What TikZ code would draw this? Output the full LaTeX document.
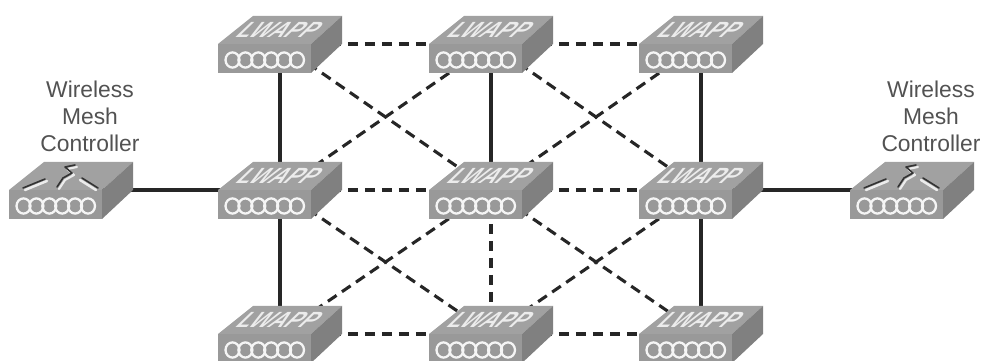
\documentclass[tikz,border=0pt]{standalone}
\usepackage{fontspec}
\setmainfont{Liberation Sans}
\usetikzlibrary{backgrounds}

\definecolor{boxtop}{gray}{0.63}
\definecolor{boxfront}{gray}{0.6}
\definecolor{boxside}{gray}{0.5}
\definecolor{labelgray}{gray}{0.32}

\newcommand{\boxbody}{
    \fill[boxtop] (-62,0) -- (-27,-28) -- (62,-28) -- (31,0) -- cycle;
    \fill[boxside] (31,0) -- (62,-28) -- (62,0) -- (31,29) -- cycle;
    \fill[boxfront] (-62,0) rectangle (31,29);
    \foreach \k in {0,...,5} {
        \draw[white!92!gray, line width=1.3pt] (-47.5+12.9*\k,16) ellipse [x radius=7, y radius=7.6];
    }
}

\tikzset{
    solidlink/.style={draw=black!85, line width=0.062cm},
    dashlink/.style={draw=black!85, line width=0.062cm, dash pattern=on 0.21cm off 0.13cm},
    ctrltext/.style={align=center, text=labelgray, inner sep=0pt, font=\fontsize{13}{15.3}\selectfont},
    lwapptext/.style={text=white!85!gray, inner sep=0pt, xslant=0.85, transform shape, font=\fontsize{12.5}{12.5}\selectfont\bfseries\itshape},
    boltline/.style={line width=0.9pt, line cap=round, line join=round},
    lwapp/.pic={
        \coordinate (-hub) at (0,0);
        \boxbody
        \node[lwapptext] (-tag) at (0,-14) {LWAPP};
    },
    meshctrl/.pic={
        \coordinate (-hub) at (0,0);
        \boxbody
        \draw[boltline, white!85!gray, line width=1.4pt] (-46,0) -- (-24,-9);
        \draw[boltline, white!85!gray, line width=1.4pt] (9,-10) -- (25,0);
        \draw[boltline, white!85!gray, line width=1.2pt] (-12,-1) -- (-6,-10) -- (3,-15) -- (-4,-21) -- (6,-23);
        \draw[boltline, black!80] (-48,-2) -- (-26,-11);
        \draw[boltline, black!80] (11,-12) -- (27,-2);
        \draw[boltline, black!80] (-14,-3) -- (-8,-12) -- (1,-17) -- (-6,-23) -- (4,-25);
    }
}

\begin{document}
\begin{tikzpicture}[x=0.02cm, y=-0.02cm]
    \useasboundingbox (0,0) rectangle (984,361);

    \pic (c1) at (71,190) {meshctrl};
    \pic (c2) at (912,190) {meshctrl};

    \pic (s11) at (280,44) {lwapp};
    \pic (s12) at (491,44) {lwapp};
    \pic (s13) at (701,44) {lwapp};
    \pic (s21) at (280,190) {lwapp};
    \pic (s22) at (491,190) {lwapp};
    \pic (s23) at (701,190) {lwapp};
    \pic (s31) at (280,334) {lwapp};
    \pic (s32) at (491,334) {lwapp};
    \pic (s33) at (701,334) {lwapp};

    \node[ctrltext] (ctrlL) at (90,116) {Wireless\\Mesh\\Controller};
    \node[ctrltext] (ctrlR) at (931,116) {Wireless\\Mesh\\Controller};

    \begin{scope}[on background layer]
        \draw[solidlink] (c1-hub) -- (s21-hub);
        \draw[solidlink] (s23-hub) -- (c2-hub);
        \draw[solidlink] (s11-hub) -- (s21-hub);
        \draw[solidlink] (s12-hub) -- (s22-hub);
        \draw[solidlink] (s13-hub) -- (s23-hub);
        \draw[solidlink] (s21-hub) -- (s31-hub);
        \draw[solidlink] (s23-hub) -- (s33-hub);

        \draw[dashlink] (s22-hub) -- (s32-hub);
        \draw[dashlink] (s11-hub) -- (s12-hub);
        \draw[dashlink] (s12-hub) -- (s13-hub);
        \draw[dashlink] (s21-hub) -- (s22-hub);
        \draw[dashlink] (s22-hub) -- (s23-hub);
        \draw[dashlink] (s31-hub) -- (s32-hub);
        \draw[dashlink] (s32-hub) -- (s33-hub);

        \draw[dashlink] (s11-hub) -- (s22-hub);
        \draw[dashlink] (s12-hub) -- (s21-hub);
        \draw[dashlink] (s12-hub) -- (s23-hub);
        \draw[dashlink] (s13-hub) -- (s22-hub);
        \draw[dashlink] (s21-hub) -- (s32-hub);
        \draw[dashlink] (s22-hub) -- (s31-hub);
        \draw[dashlink] (s22-hub) -- (s33-hub);
        \draw[dashlink] (s23-hub) -- (s32-hub);
    \end{scope}
\end{tikzpicture}
\end{document}
